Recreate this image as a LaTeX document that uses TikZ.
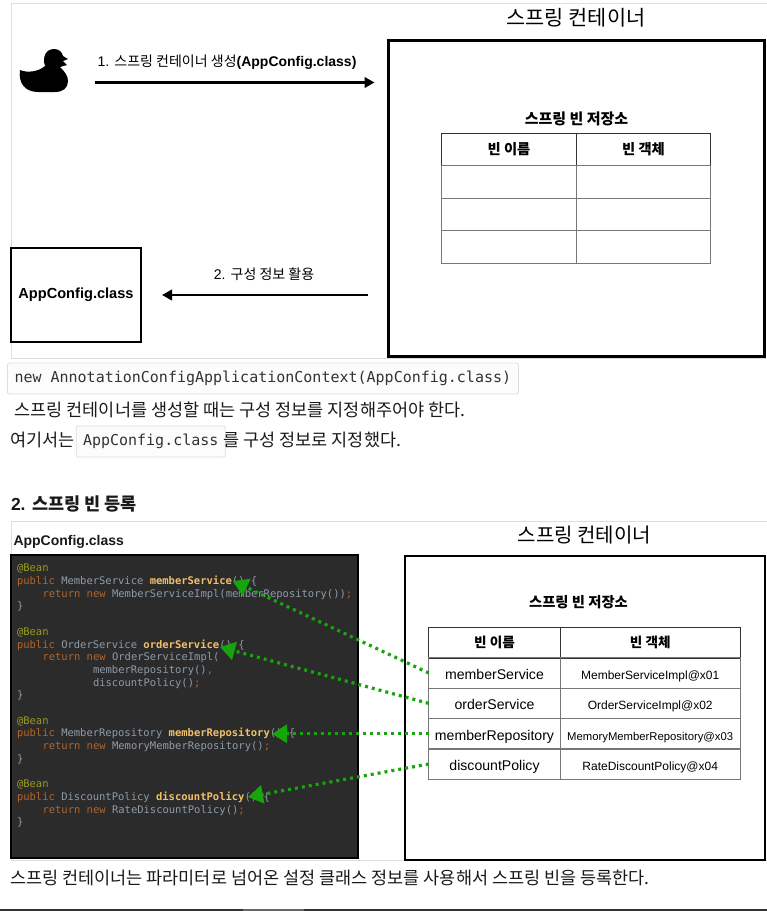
\documentclass[tikz,border=0pt]{standalone}
\usepackage{fontspec}
\setmainfont{Liberation Sans}
\setmonofont{DejaVu Sans Mono}
\newfontfamily\kr{Noto Sans CJK KR}
\usetikzlibrary{arrows.meta}

\definecolor{framegray}{HTML}{DEDEDE}
\definecolor{rulegray}{HTML}{777777}
\definecolor{codebg}{HTML}{2B2B2B}
\definecolor{codetxt}{HTML}{8E9BA8}
\definecolor{codekw}{HTML}{B5652A}
\definecolor{codeann}{HTML}{9A9A22}
\definecolor{codefn}{HTML}{F2C06A}
\definecolor{dotgreen}{HTML}{16A60C}

\newcommand{\sz}[1]{\fontsize{#1}{#1}\selectfont}
\newcommand{\kw}[1]{\textcolor{codekw}{#1}}
\newcommand{\fn}[1]{\textcolor{codefn}{\bfseries #1}}
\newcommand{\ann}{\textcolor{codeann}{@Bean}}

\begin{document}
\begin{tikzpicture}[
x=1pt,y=-1pt,
every node/.style={inner sep=0pt,outer sep=0pt},
txt/.style={anchor=west,text=black!90},
codeline/.style={anchor=base west,yshift=-3.5pt,text=codetxt,font=\ttfamily\sz{10.5}},
box/.style={draw=black,line width=2.4pt},
cellA/.style={draw=rulegray,line width=.7pt,minimum width=134.5pt,minimum height=32.5pt},
cellB/.style={draw=rulegray,line width=.7pt,minimum width=131.5pt,minimum height=30.4pt,text height=13pt,text depth=0pt},
cellC/.style={draw=rulegray,line width=.7pt,minimum width=179.5pt,minimum height=30.4pt,text height=13pt,text depth=0pt},
headB/.style={draw=black!80,font=\kr\bfseries\sz{13.6},text height=11pt,text depth=1.5pt},
inline/.style={draw=framegray,fill=black!1,rounded corners=1.5pt,line width=.8pt,minimum height=31pt},
flow/.style={line width=2.4pt,-{Triangle[length=10pt,width=10.5pt]}},
dots/.style={dotgreen,line width=3.2pt,dash pattern=on 3pt off 4pt,-{Triangle[length=15pt,width=18pt]}}
]
\useasboundingbox (0,0) rectangle (767,911);

% top figure
\draw[framegray,line width=1pt] (11.5,3) rectangle (767,358);
\node (titleA) at (576,18) {\kr\sz{20.8}스프링 컨테이너};
\node[box,minimum width=376pt,minimum height=316pt] (containerA) at (576.5,198.5) {};
\node[minimum width=50pt,minimum height=2pt] (duck) at (44,82.5) {};
\fill (20,70) .. controls (27,73) and (38,72) .. (45,66) .. controls (42,57) and (46,49) .. (54,49)
 .. controls (59,49) and (62,52) .. (63,56) -- (68,59) -- (63,61) -- (67,65) -- (60,67)
 .. controls (65,72) and (68,76) .. (68,81) .. controls (68,88) and (63,92) .. (55,92)
 -- (38,92) .. controls (26,92) and (18,84) .. (20,70) -- cycle;
\node (stepA) at (227,62) {\sz{14}1. {\kr 스프링 컨테이너 생성}\textbf{(AppConfig.class)}};
\node[draw=black,line width=2pt,minimum width=130pt,minimum height=94pt,font=\bfseries\sz{14.6}] (appconfigA) at (76,295) {\raisebox{-3pt}{AppConfig.class}};
\node (stepB) at (264,274.5) {\sz{14}2. {\kr 구성 정보 활용}};
\draw[flow,shorten <=26pt,shorten >=14pt] (duck) -- (duck -| containerA.west);
\draw[flow,shorten <=21pt,shorten >=21pt] (containerA.west |- appconfigA) -- (appconfigA);

\node (storeA) at (576.5,118.5) {\kr\bfseries\sz{15}스프링 빈 저장소};
\node[cellA,draw=black!80,font=\kr\bfseries\sz{14.3}] (hA1) at (509,149.5) {빈 이름};
\node[cellA,draw=black!80,font=\kr\bfseries\sz{14.3}] (hA2) at (643.5,149.5) {빈 객체};
\node[cellA] (a11) at (509,182) {};
\node[cellA] (a12) at (643.5,182) {};
\node[cellA] (a21) at (509,214.5) {};
\node[cellA] (a22) at (643.5,214.5) {};
\node[cellA] (a31) at (509,247) {};
\node[cellA] (a32) at (643.5,247) {};

% text between
\node[inline,minimum width=511pt] (codeA) at (263,378.5) {};
\node[txt,text=black!80,font=\ttfamily\sz{15}] (codeAtxt) at (14.5,378.5) {new AnnotationConfigApplicationContext(AppConfig.class)};
\node[txt] (lineA) at (14.5,410) {\kr\sz{17.5}스프링 컨테이너를 생성할 때는 구성 정보를 지정해주어야 한다.};
\node[txt] (lineB) at (10,440) {\kr\sz{17.5}여기서는};
\node[inline,minimum width=149pt] (codeB) at (150.75,441.5) {};
\node[txt,text=black!80,font=\ttfamily\sz{15}] (codeBtxt) at (83,441.5) {AppConfig.class};
\node[txt] (lineC) at (223.5,440) {\kr\sz{17.5}를 구성 정보로 지정했다.};
\node[txt] (heading) at (11,504) {\bfseries\sz{17.5}2. {\kr 스프링 빈 등록}};

% bottom figure
\draw[framegray,line width=1pt] (11.5,521) rectangle (767,860);
\node[txt] (appconfigB) at (13.5,541.5) {\bfseries\sz{14}AppConfig.class};
\node (titleB) at (584.5,535) {\kr\sz{20}스프링 컨테이너};
\node[draw=black,fill=codebg,line width=1.5pt,minimum width=347pt,minimum height=303pt] (codepanel) at (184.5,706.5) {};

\node[codeline] (c1) at (17,568) {\ann};
\node[codeline] (c2) at (17,581) {\kw{public} MemberService \fn{memberService}() \{};
\node[codeline] (c3) at (42.5,594) {\kw{return new} MemberServiceImpl(memberRepository())\kw{;}};
\node[codeline] (c4) at (17,606) {\}};
\node[codeline] (c5) at (17,632) {\ann};
\node[codeline] (c6) at (17,645) {\kw{public} OrderService \fn{orderService}() \{};
\node[codeline] (c7) at (42.5,657) {\kw{return new} OrderServiceImpl(};
\node[codeline] (c8) at (93,670) {memberRepository()\kw{,}};
\node[codeline] (c9) at (93,683) {discountPolicy()\kw{;}};
\node[codeline] (c10) at (17,695) {\}};
\node[codeline] (c11) at (17,721) {\ann};
\node[codeline] (c12) at (17,733) {\kw{public} MemberRepository \fn{memberRepository}() \{};
\node[codeline] (c13) at (42.5,746) {\kw{return new} MemoryMemberRepository()\kw{;}};
\node[codeline] (c14) at (17,759) {\}};
\node[codeline] (c15) at (17,784) {\ann};
\node[codeline] (c16) at (17,797) {\kw{public} DiscountPolicy \fn{discountPolicy}() \{};
\node[codeline] (c17) at (42.5,810) {\kw{return new} RateDiscountPolicy()\kw{;}};
\node[codeline] (c18) at (17,822) {\}};

\node[box,minimum width=360pt,minimum height=304pt] (containerB) at (585,708) {};
\node (storeB) at (578.5,602) {\kr\bfseries\sz{14.3}스프링 빈 저장소};
\node[cellB,headB] (hB1) at (494.5,643) {빈 이름};
\node[cellC,headB] (hB2) at (650.2,643) {빈 객체};
\node[cellB,font=\sz{14.1}] (msName) at (494.5,673) {memberService};
\node[cellC,font=\sz{12}] (msObj) at (650.2,673) {MemberServiceImpl@x01};
\node[cellB,font=\sz{14.1}] (osName) at (494.5,703.4) {orderService};
\node[cellC,font=\sz{12}] (osObj) at (650.2,703.4) {OrderServiceImpl@x02};
\node[cellB,font=\sz{14.1}] (mrName) at (494.5,733.8) {memberRepository};
\node[cellC,font=\sz{11.3}] (mrObj) at (650.2,733.8) {MemoryMemberRepository@x03};
\node[cellB,font=\sz{14.1}] (dpName) at (494.5,764) {discountPolicy};
\node[cellC,font=\sz{12}] (dpObj) at (650.2,764) {RateDiscountPolicy@x04};

\coordinate (msEnd) at (233,581);
\coordinate (osEnd) at (220,647);
\coordinate (mrEnd) at (272,733.8);
\coordinate (dpEnd) at (248,797);
\draw[dots] (msName.west) -- (msEnd);
\draw[dots] (osName.west) -- (osEnd);
\draw[dots] (mrName.west) -- (mrEnd);
\draw[dots] (dpName.west) -- (dpEnd);

\node[txt] (lineD) at (10,878) {\kr\sz{17.5}스프링 컨테이너는 파라미터로 넘어온 설정 클래스 정보를 사용해서 스프링 빈을 등록한다.};

% strip at the foot
\fill[black!80] (0,909) rectangle (767,911);
\fill[black!60] (243,909) rectangle (304,911);
\end{tikzpicture}
\end{document}
